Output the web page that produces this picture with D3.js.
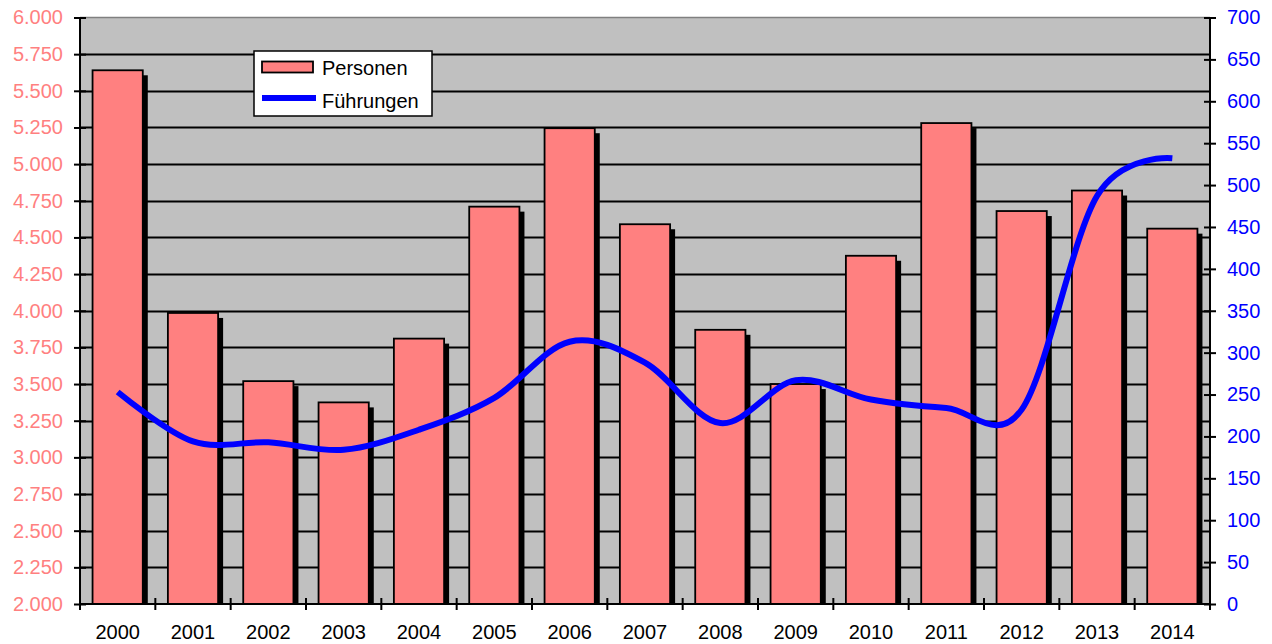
<!DOCTYPE html>
<html>
<head>
<meta charset="utf-8">
<script src="https://cdn.jsdelivr.net/npm/d3@7"></script>
<style>
  body { margin: 0; background: #fff; }
  svg { font-family: "Liberation Sans", Arial, sans-serif; }
</style>
</head>
<body>
<script>
// data
var years = ["2000", "2001", "2002", "2003", "2004", "2005", "2006", "2007",
             "2008", "2009", "2010", "2011", "2012", "2013", "2014"];
var personen = [5640, 3985, 3520, 3375, 3810, 4710, 5245, 4590,
                3870, 3500, 4375, 5280, 4680, 4820, 4560];
var fuehrungen = [253, 194, 193, 184, 208, 246, 313, 288,
                  216, 267, 244, 234, 232, 487, 532];
var leftTicks = [2000, 2250, 2500, 2750, 3000, 3250, 3500, 3750, 4000,
                 4250, 4500, 4750, 5000, 5250, 5500, 5750, 6000];
var rightTicks = [0, 50, 100, 150, 200, 250, 300, 350, 400, 450, 500, 550, 600, 650, 700];
var seriesNames = ["Personen", "Führungen"];

function drawChart() {
    var width = 1272, height = 644;
    var left = 80, right = 1210, top = 17.5, bottom = 604;

    var svg = d3.select("body")
        .append("svg")
        .attr("width", width)
        .attr("height", height);

    var de = d3.formatLocale({decimal: ",", thousands: ".", grouping: [3], currency: ["", " €"]});
    var fmt = de.format(",.0f");

    var x = d3.scaleBand()
        .domain(years)
        .range([left, right])
        .paddingInner(1 / 3)
        .paddingOuter(1 / 6);

    var yL = d3.scaleLinear().domain([2000, 6000]).range([bottom, top]);
    var yR = d3.scaleLinear().domain([0, 700]).range([bottom, top]);

    // plot area
    svg.append("rect")
        .attr("x", left).attr("y", top)
        .attr("width", right - left).attr("height", bottom - top)
        .attr("fill", "#c0c0c0");

    svg.append("line")
        .attr("x1", left).attr("x2", right)
        .attr("y1", top).attr("y2", top)
        .attr("stroke", "#808080").attr("stroke-width", 1.5);

    // gridlines
    svg.append("g")
        .selectAll("line")
        .data(leftTicks.slice(1, -1))
        .enter().append("line")
        .attr("x1", left).attr("x2", right)
        .attr("y1", function(d) { return Math.round(yL(d)) + 0.5; })
        .attr("y2", function(d) { return Math.round(yL(d)) + 0.5; })
        .attr("stroke", "#000")
        .attr("stroke-width", 1.8);

    // bar shadows
    var off = 5;
    svg.append("g")
        .selectAll("rect")
        .data(personen)
        .enter().append("rect")
        .attr("x", function(d, i) { return x(years[i]) + off; })
        .attr("y", function(d) { return yL(d) + off; })
        .attr("width", x.bandwidth())
        .attr("height", function(d) { return bottom - yL(d) - off; })
        .attr("fill", "#000");

    // bars
    svg.append("g")
        .selectAll("rect")
        .data(personen)
        .enter().append("rect")
        .attr("x", function(d, i) { return x(years[i]); })
        .attr("y", function(d) { return yL(d); })
        .attr("width", x.bandwidth())
        .attr("height", function(d) { return bottom - yL(d); })
        .attr("fill", "#ff8080")
        .attr("stroke", "#000")
        .attr("stroke-width", 1.8);

    // line
    var line = d3.line()
        .x(function(d, i) { return x(years[i]) + x.bandwidth() / 2; })
        .y(function(d) { return yR(d); })
        .curve(d3.curveCatmullRom.alpha(0));

    svg.append("path")
        .datum(fuehrungen)
        .attr("d", line)
        .attr("fill", "none")
        .attr("stroke", "#0000ff")
        .attr("stroke-width", 6);

    // left axis
    var axL = svg.append("g")
        .attr("transform", "translate(" + left + ",0)")
        .call(d3.axisLeft(yL).tickValues(leftTicks).tickFormat(fmt).tickSize(6).tickPadding(11));
    axL.select(".domain").attr("stroke-width", 2).attr("d", "M0," + top + "V" + bottom);
    axL.selectAll(".tick line").attr("x1", 6).attr("stroke-width", 2);
    axL.selectAll("text")
        .attr("fill", "#ff8080")
        .style("font-size", "20px")
        .style("font-family", "Liberation Sans, Arial, sans-serif");

    // right axis
    var axR = svg.append("g")
        .attr("transform", "translate(" + right + ",0)")
        .call(d3.axisRight(yR).tickValues(rightTicks).tickSize(6).tickPadding(11));
    axR.select(".domain").attr("stroke-width", 2).attr("d", "M0," + top + "V" + bottom);
    axR.selectAll(".tick line").attr("x1", -6).attr("stroke-width", 2);
    axR.selectAll("text")
        .attr("fill", "#0000ff")
        .style("font-size", "20px")
        .style("font-family", "Liberation Sans, Arial, sans-serif");

    // bottom axis: labels at centres, ticks at category borders
    var axB = svg.append("g")
        .attr("transform", "translate(0," + bottom + ")")
        .call(d3.axisBottom(x).tickSize(0).tickPadding(21));
    axB.select(".domain").attr("stroke-width", 2).attr("d", "M" + left + ",0H" + right);
    axB.selectAll("text")
        .attr("fill", "#000")
        .style("font-size", "20px")
        .style("font-family", "Liberation Sans, Arial, sans-serif");

    var gap = (x.step() - x.bandwidth()) / 2;
    var borders = years.map(function(d) { return x(d) - gap; }).concat([right]);
    axB.selectAll(".border")
        .data(borders)
        .enter().append("line")
        .attr("class", "border")
        .attr("x1", function(d) { return d; })
        .attr("x2", function(d) { return d; })
        .attr("y1", -6).attr("y2", 6)
        .attr("stroke", "#000")
        .attr("stroke-width", 2);

    // legend
    var lg = svg.append("g").attr("transform", "translate(254,51)");
    lg.append("rect")
        .attr("width", 178).attr("height", 65)
        .attr("fill", "#fff")
        .attr("stroke", "#000").attr("stroke-width", 1.5);
    lg.append("rect")
        .attr("x", 8).attr("y", 10.5)
        .attr("width", 51).attr("height", 11)
        .attr("fill", "#ff8080")
        .attr("stroke", "#000").attr("stroke-width", 1.8);
    lg.append("line")
        .attr("x1", 8).attr("x2", 62)
        .attr("y1", 47).attr("y2", 47)
        .attr("stroke", "#0000ff").attr("stroke-width", 6);
    lg.selectAll("text")
        .data(seriesNames)
        .enter().append("text")
        .attr("x", 68)
        .attr("y", function(d, i) { return 17 + i * 33; })
        .attr("dy", "0.35em")
        .style("font-size", "20px")
        .text(function(d) { return d; });
}

drawChart();
</script>
</body>
</html>
